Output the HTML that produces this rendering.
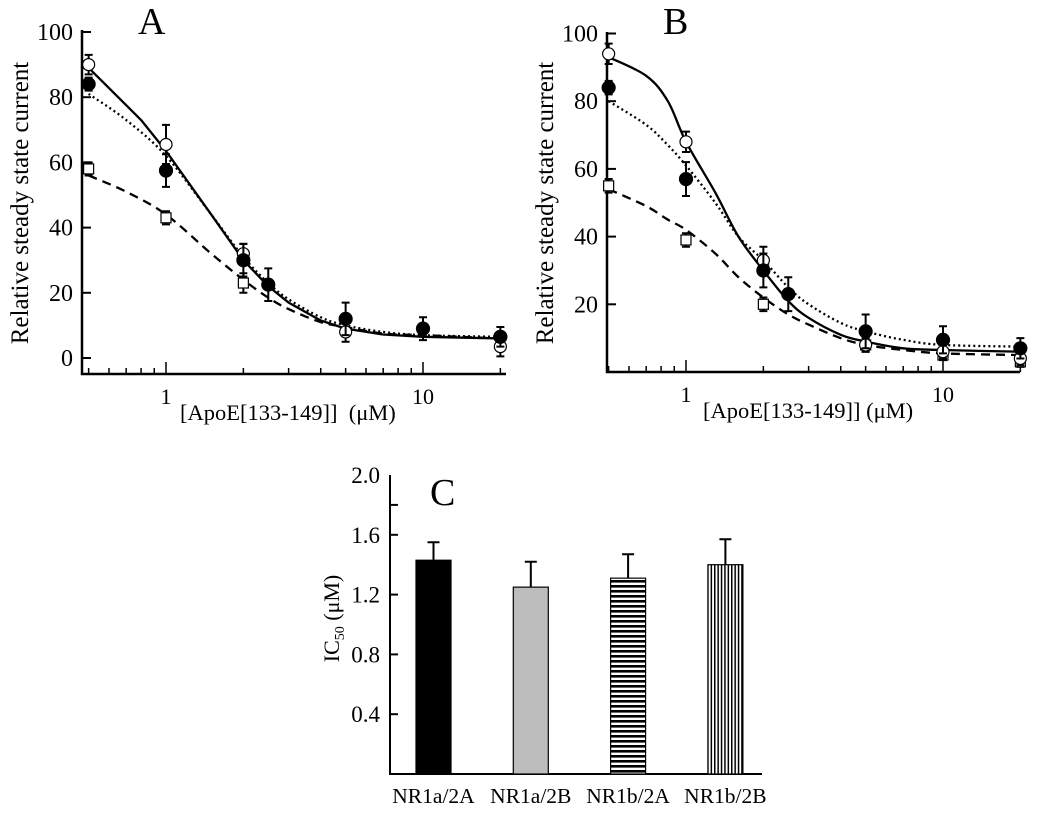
<!DOCTYPE html>
<html><head><meta charset="utf-8">
<style>
html,body{margin:0;padding:0;background:#fff;}
svg{display:block;font-family:"Liberation Serif","DejaVu Serif",serif;}
</style></head>
<body>
<svg id="fig" width="1050" height="814" viewBox="0 0 1050 814">
<defs>
<pattern id="hstripe" width="6" height="5" patternUnits="userSpaceOnUse"><rect width="6" height="5" fill="#fff"/><rect width="6" height="2.6" fill="#000"/></pattern>
<pattern id="vstripe" width="3.4" height="6" patternUnits="userSpaceOnUse"><rect width="3.4" height="6" fill="#fff"/><rect width="1.5" height="6" fill="#000"/></pattern>
</defs>
</svg>
<script>
// ---- Panel A data ----
const curveXA = [0.5,0.8,1,1.5,2,2.5,3,4,5,7,10,20];
const solidA  = [89,73,63.5,44,30,22,17,11.5,9,7.2,6.5,6];
const dotXA   = [0.5,0.7,1,1.5,2,2.5,3,4,5,7,10,20];
const dottedA = [81,73,62,44,31,23,18,12.5,10,8,7,6.5];
const dashXA  = [0.5,0.7,1,1.5,2,2.5,3,4,5,7,10,20];
const dashedA = [56,51,44,32,24,18.5,15,11,9.5,7.5,7,6];
const openXA=[0.5,1,2,5,20], openYA=[90,65.5,32,8,3.5], openEA=[3,6,3,3,3];
const fillXA=[0.5,1,2,2.5,5,10,20], fillYA=[84,57.5,30,22.5,12,9,6.5], fillEA=[2,5,5,5,5,3.5,3];
const sqXA=[0.5,1,2], sqYA=[58,43,23], sqEA=[2,2,3];
// ---- Panel B data ----
const curveXB = [0.5,0.7,0.85,1,1.3,1.6,2,2.5,3,4,5,7,10,20];
const solidB  = [93,87.5,80,68,53,40,30,21,16,11,9,7,6.5,6];
const dottedB = [80,73,67,61,50,40,33,25,20,14.5,12,9.5,8,7.5];
const dashedB = [54,49,45,42,35,28,22,17,14,10,8,6.5,5.5,5];
const openXB=[0.5,1,2,5,10,20], openYB=[94,68,33,8,6,4], openEB=[3,3,4,2,2,2];
const fillXB=[0.5,1,2,2.5,5,10,20], fillYB=[84,57,30,23,12,9.5,7], fillEB=[2,5,5,5,5,4,3];
const sqXB=[0.5,1,2,5,10,20], sqYB=[55,39,20,8,5,3], sqEB=[2,2,2,2,1.5,1.5];
// ---- Panel C data ----
const barCats=["NR1a/2A","NR1a/2B","NR1b/2A","NR1b/2B"];
const barVals=[1.43,1.25,1.31,1.40];
const barErrs=[0.12,0.17,0.16,0.17];
const yTicksAB=[0,20,40,60,80,100];
const yTicksC=[0.4,0.8,1.2,1.6,2.0];
const xMajor=[1,10];

const svg=document.getElementById('fig');
const NS='http://www.w3.org/2000/svg';
function mk(tag,attrs,parent){const e=document.createElementNS(NS,tag);for(const k in attrs)e.setAttribute(k,attrs[k]);(parent||svg).appendChild(e);return e;}
function smooth(p){
  let d=`M${p[0][0]} ${p[0][1]}`;
  for(let i=0;i<p.length-1;i++){
    const p0=p[i-1]||p[i],p1=p[i],p2=p[i+1],p3=p[i+2]||p2;
    const c1=[p1[0]+(p2[0]-p0[0])/6,p1[1]+(p2[1]-p0[1])/6];
    const c2=[p2[0]-(p3[0]-p1[0])/6,p2[1]-(p3[1]-p1[1])/6];
    d+=`C${c1[0]} ${c1[1]} ${c2[0]} ${c2[1]} ${p2[0]} ${p2[1]}`;
  }
  return d;
}

function panel(cfg){
  const g=mk('g',{});
  
  
  const X=v=>cfg.x1+cfg.dec*Math.log10(v);
  const Y=v=>cfg.y0-v*cfg.py;
  const ax=mk('path',{d:`M${cfg.ax} ${cfg.ytop-2}V${cfg.ybot}H${cfg.xend}`,stroke:'#000','stroke-width':2.5,fill:'none'},g);
  
  
  cfg.yt.forEach(t=>{
    mk('line',{x1:cfg.ax,x2:cfg.ax+9,y1:Y(t),y2:Y(t),stroke:'#000','stroke-width':2},g);
    if(cfg.showZero||t>0){const tx=mk('text',{x:cfg.ax-9,y:Y(t)+8,'text-anchor':'end','font-size':24},g);tx.textContent=t;
    
    }
  });
  const minors=[0.5,0.6,0.7,0.8,0.9,2,3,4,5,6,7,8,9,20];
  minors.forEach(v=>mk('line',{x1:X(v),x2:X(v),y1:cfg.ybot,y2:cfg.ybot-6,stroke:'#000','stroke-width':1.5},g));
  xMajor.forEach(v=>{mk('line',{x1:X(v),x2:X(v),y1:cfg.ybot,y2:cfg.ybot-12,stroke:'#000','stroke-width':1.5},g);
    const tx=mk('text',{x:X(v),y:cfg.ybot+30,'text-anchor':'middle','font-size':22},g);tx.textContent=v;
    
    });
  const yt=mk('text',{x:0,y:0,'text-anchor':'middle','font-size':25,transform:`translate(${cfg.ax-54},${(cfg.ytop+cfg.ybot)/2}) rotate(-90)`},g);
  yt.textContent='Relative steady state current';
  
  
  const xt=mk('text',{x:cfg.xtx,y:cfg.ybot+46,'font-size':22.5,style:'white-space:pre'},g);
  xt.textContent=cfg.xtitle;
  
  
  const lb=mk('text',{x:cfg.lx,y:34,'font-size':38},g);
  lb.textContent=cfg.label;
  
  
  const line=(xs,ys,dash,nm,sm)=>{const pts=xs.map((x,i)=>[X(x),Y(ys[i])]);
    const p=mk('path',{d:sm?smooth(pts):'M'+pts.map(q=>q.join(' ')).join('L'),fill:'none',stroke:'#000','stroke-width':2.3,'stroke-dasharray':dash,'stroke-linejoin':'round'},g);
    
    };
  line(cfg.dsx,cfg.dashed,'9 6','dashed-fit-curve',true);
  line(cfg.dtx,cfg.dotted,'2 3','dotted-fit-curve',true);
  line(cfg.sx,cfg.solid,'','solid-fit-curve',cfg.smoothSolid);
  const pts=(xs,ys,es,kind)=>xs.forEach((x,i)=>{
    const cx=X(x),cy=Y(ys[i]),e=es[i]*cfg.py;
    mk('path',{d:`M${cx} ${cy-e}V${cy+e}M${cx-4} ${cy-e}H${cx+4}M${cx-4} ${cy+e}H${cx+4}`,stroke:'#000','stroke-width':2},g);
    let m;
    if(kind==='sq') m=mk('rect',{x:cx-5,y:cy-5,width:10,height:10,fill:'#fff',stroke:'#000','stroke-width':1.2},g);
    else m=mk('circle',{cx:cx,cy:cy,r:kind==='fill'?6.5:6,fill:kind==='fill'?'#000':'#fff',stroke:'#000','stroke-width':1.2},g);
    
    
  });
  pts(cfg.sq[0],cfg.sq[1],cfg.sq[2],'sq');
  pts(cfg.op[0],cfg.op[1],cfg.op[2],'open');
  pts(cfg.fi[0],cfg.fi[1],cfg.fi[2],'fill');
}
panel({name:'panel-a',x1:166,dec:257,y0:358,py:3.26,ax:82,ytop:32,ybot:374,xend:506,yt:yTicksAB,showZero:true,
  xtitle:'[ApoE[133-149]]  (μM)',xtx:180,lx:138,label:'A',smoothSolid:false,
  sx:curveXA,solid:solidA,dtx:dotXA,dotted:dottedA,dsx:dashXA,dashed:dashedA,
  op:[openXA,openYA,openEA],fi:[fillXA,fillYA,fillEA],sq:[sqXA,sqYA,sqEA]});
panel({name:'panel-b',x1:686,dec:257,y0:372,py:3.385,ax:607,ytop:34,ybot:372,xend:1020,yt:yTicksAB,showZero:false,
  xtitle:'[ApoE[133-149]] (μM)',xtx:703,lx:663,label:'B',smoothSolid:true,
  sx:curveXB,solid:solidB,dtx:curveXB,dotted:dottedB,dsx:curveXB,dashed:dashedB,
  op:[openXB,openYB,openEB],fi:[fillXB,fillYB,fillEB],sq:[sqXB,sqYB,sqEB]});

(function(){
  const g=mk('g',{});
  
  
  const y0=774,py=149.5,ax=390,xend=762;
  const Y=v=>y0-v*py;
  const a=mk('path',{d:`M${ax} ${Y(2.0)}V${y0}H${xend}`,stroke:'#000','stroke-width':2,fill:'none'},g);
  
  
  [0.4,0.8,1.2,1.6,1.8].forEach(t=>mk('line',{x1:ax,x2:ax+8,y1:Y(t),y2:Y(t),stroke:'#000','stroke-width':2},g));
  yTicksC.forEach(t=>{const tx=mk('text',{x:ax-10,y:Y(t)+8,'text-anchor':'end','font-size':23},g);tx.textContent=t.toFixed(1);
    
    });
  const yt=mk('text',{x:0,y:0,'text-anchor':'middle','font-size':22,transform:`translate(339,${Y(1.0)-6}) rotate(-90)`},g);
  yt.innerHTML='IC<tspan font-size="14" dy="5">50</tspan><tspan dy="-5"> (μM)</tspan>';
  
  
  const lb=mk('text',{x:430,y:505,'font-size':38},g);lb.textContent='C';
  
  
  const fills=['#000','#bdbdbd','url(#hstripe)','url(#vstripe)'];
  const x0=416,step=97.3,w=35;
  barCats.forEach((c,i)=>{
    const bx=x0+i*step,v=barVals[i],e=barErrs[i];
    const cx=bx+w/2;
    mk('path',{d:`M${cx} ${Y(v)}V${Y(v+e)}M${cx-6} ${Y(v+e)}H${cx+6}`,stroke:'#000','stroke-width':2},g);
    const r=mk('rect',{x:bx,y:Y(v),width:w,height:y0-Y(v),fill:fills[i],stroke:'#000','stroke-width':1.2},g);
    
    
    const tx=mk('text',{x:cx,y:803,'text-anchor':'middle','font-size':21.5},g);tx.textContent=c;
    
    
  });
})();
</script>
</body></html>
